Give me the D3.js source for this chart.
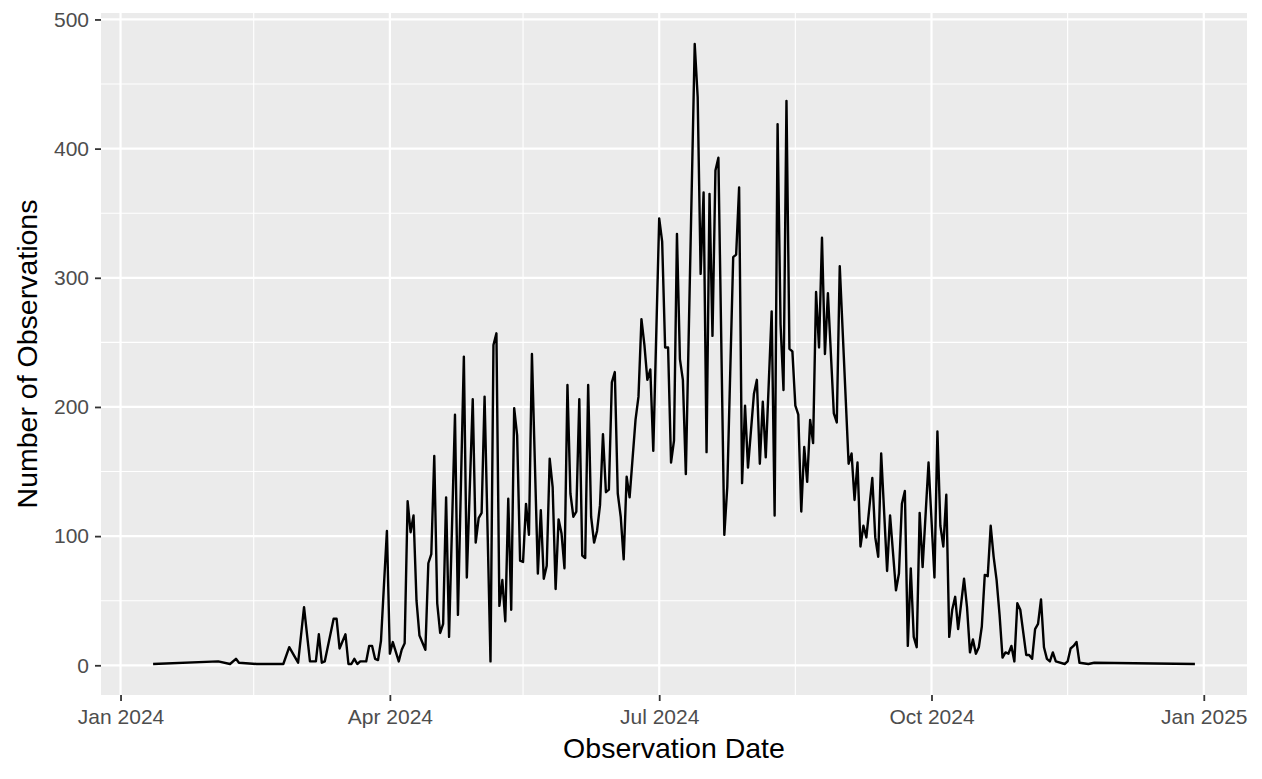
<!DOCTYPE html>
<html>
<head>
<meta charset="utf-8">
<script src="https://cdn.jsdelivr.net/npm/d3@7"></script>
<style>
  html, body { margin: 0; padding: 0; background: #ffffff; }
  svg { display: block; }
  text { font-family: "Liberation Sans", Arial, Helvetica, sans-serif; }
</style>
</head>
<body>
<svg id="chart" width="1262" height="779"></svg>
<script>
// ---- data ----
const obsDates = [
  "2024-01-12",
  "2024-02-03","2024-02-07","2024-02-09","2024-02-10","2024-02-16","2024-02-25","2024-02-27",
  "2024-03-01","2024-03-03","2024-03-05","2024-03-07","2024-03-08","2024-03-09","2024-03-10","2024-03-13","2024-03-14","2024-03-15","2024-03-17","2024-03-18","2024-03-19","2024-03-20","2024-03-21","2024-03-22","2024-03-24","2024-03-25","2024-03-26","2024-03-27","2024-03-28","2024-03-29","2024-03-30","2024-03-31",
  "2024-04-01","2024-04-02","2024-04-04","2024-04-05","2024-04-06","2024-04-07","2024-04-08","2024-04-09","2024-04-10","2024-04-11","2024-04-13","2024-04-14","2024-04-15","2024-04-16","2024-04-17","2024-04-18","2024-04-19","2024-04-20","2024-04-21","2024-04-23","2024-04-24","2024-04-26","2024-04-27","2024-04-29","2024-04-30",
  "2024-05-01","2024-05-02","2024-05-03","2024-05-05","2024-05-06","2024-05-07","2024-05-08","2024-05-09","2024-05-10","2024-05-11","2024-05-12","2024-05-13","2024-05-14","2024-05-15","2024-05-16","2024-05-17","2024-05-18","2024-05-19","2024-05-21","2024-05-22","2024-05-23","2024-05-24","2024-05-25","2024-05-26","2024-05-27","2024-05-28","2024-05-29","2024-05-30","2024-05-31",
  "2024-06-01","2024-06-02","2024-06-03","2024-06-04","2024-06-05","2024-06-06","2024-06-07","2024-06-08","2024-06-09","2024-06-10","2024-06-11","2024-06-12","2024-06-13","2024-06-14","2024-06-15","2024-06-16","2024-06-17","2024-06-18","2024-06-19","2024-06-20","2024-06-21","2024-06-23","2024-06-24","2024-06-25","2024-06-26","2024-06-27","2024-06-28","2024-06-29",
  "2024-07-01","2024-07-02","2024-07-03","2024-07-04","2024-07-05","2024-07-06","2024-07-07","2024-07-08","2024-07-09","2024-07-10","2024-07-13","2024-07-14","2024-07-15","2024-07-16","2024-07-17","2024-07-18","2024-07-19","2024-07-20","2024-07-21","2024-07-23","2024-07-24","2024-07-26","2024-07-27","2024-07-28","2024-07-29","2024-07-30","2024-07-31",
  "2024-08-02","2024-08-03","2024-08-04","2024-08-05","2024-08-06","2024-08-08","2024-08-09","2024-08-10","2024-08-11","2024-08-12","2024-08-13","2024-08-14","2024-08-15","2024-08-16","2024-08-17","2024-08-18","2024-08-19","2024-08-20","2024-08-21","2024-08-22","2024-08-23","2024-08-24","2024-08-25","2024-08-26","2024-08-27","2024-08-29","2024-08-30","2024-08-31",
  "2024-09-03","2024-09-04","2024-09-05","2024-09-06","2024-09-07","2024-09-08","2024-09-09","2024-09-11","2024-09-12","2024-09-13","2024-09-14","2024-09-16","2024-09-17","2024-09-19","2024-09-20","2024-09-21","2024-09-22","2024-09-23","2024-09-24","2024-09-25","2024-09-26","2024-09-27","2024-09-28","2024-09-30",
  "2024-10-02","2024-10-03","2024-10-04","2024-10-05","2024-10-06","2024-10-07","2024-10-08","2024-10-09","2024-10-10","2024-10-12","2024-10-13","2024-10-14","2024-10-15","2024-10-16","2024-10-17","2024-10-18","2024-10-19","2024-10-20","2024-10-21","2024-10-22","2024-10-23","2024-10-24","2024-10-25","2024-10-26","2024-10-27","2024-10-28","2024-10-29","2024-10-30","2024-10-31",
  "2024-11-02","2024-11-03","2024-11-04","2024-11-05","2024-11-06","2024-11-07","2024-11-08","2024-11-09","2024-11-10","2024-11-11","2024-11-12","2024-11-15","2024-11-16","2024-11-17","2024-11-18","2024-11-19","2024-11-20","2024-11-23","2024-11-25",
  "2024-12-29"
];
const obsCounts = [
  1,
  3,1,5,2,1,1,14,
  2,45,3,3,24,2,3,36,36,13,24,1,1,5,1,3,3,15,15,5,4,19,62,104,
  9,18,3,12,17,127,103,116,50,23,12,79,86,162,48,25,32,130,22,194,39,239,68,206,95,
  114,118,208,3,248,257,46,66,34,129,43,199,178,81,80,125,101,241,71,120,67,77,160,138,59,113,102,75,217,
  133,115,119,206,85,83,217,115,95,104,124,179,134,136,219,227,133,115,82,146,130,190,208,268,248,221,229,166,
  346,328,246,246,157,174,334,237,221,148,481,440,303,366,165,365,255,383,393,101,138,316,318,370,141,201,153,
  210,221,156,204,161,274,116,419,264,213,437,245,243,201,194,119,169,142,190,172,289,246,331,241,288,195,188,309,
  156,164,128,157,92,108,99,145,99,84,164,73,116,58,71,125,135,15,75,22,14,118,76,157,
  68,181,108,92,132,22,43,53,28,67,45,10,20,9,14,30,70,69,108,84,66,39,6,10,9,15,3,48,43,
  8,8,5,28,32,51,14,5,3,10,3,1,3,13,15,18,2,1,2,
  1
];
const xTickLabels = ["Jan 2024","Apr 2024","Jul 2024","Oct 2024","Jan 2025"];
const xTickDates = ["2024-01-01","2024-04-01","2024-07-01","2024-10-01","2025-01-01"];
const xMinorDates = ["2024-02-15","2024-05-16","2024-08-16","2024-11-16"];
const yTicks = [0,100,200,300,400,500];
const yMinorTicks = [50,150,250,350,450];
const xTitle = "Observation Date";
const yTitle = "Number of Observations";

// ---- layout ----
const W = 1262, H = 779;
const panel = { left: 101, top: 13, right: 1247, bottom: 695 };
const tickFont = "21px", titleFont = "28.5px";

const parse = d3.timeParse("%Y-%m-%d");
const data = obsDates.map((d, i) => ({ date: parse(d), n: obsCounts[i] }));

// ggplot-style 5% expansion
const xExt = d3.extent(data, d => d.date);
const xPad = (xExt[1] - xExt[0]) * 0.05;
const yExt = d3.extent(data, d => d.n);
const yPad = (yExt[1] - yExt[0]) * 0.05;

const x = d3.scaleTime()
  .domain([new Date(+xExt[0] - xPad), new Date(+xExt[1] + xPad)])
  .range([panel.left, panel.right]);
const y = d3.scaleLinear()
  .domain([yExt[0] - yPad, yExt[1] + yPad])
  .range([panel.bottom, panel.top]);

const svg = d3.select("#chart");

// panel background
svg.append("rect")
  .attr("x", panel.left).attr("y", panel.top)
  .attr("width", panel.right - panel.left).attr("height", panel.bottom - panel.top)
  .attr("fill", "#EBEBEB");

const grid = svg.append("g");
// minor grid
grid.selectAll("line.ymin").data(yMinorTicks).join("line")
  .attr("x1", panel.left).attr("x2", panel.right)
  .attr("y1", d => y(d)).attr("y2", d => y(d))
  .attr("stroke", "#ffffff").attr("stroke-width", 1.1);
grid.selectAll("line.xmin").data(xMinorDates.map(parse)).join("line")
  .attr("y1", panel.top).attr("y2", panel.bottom)
  .attr("x1", d => x(d)).attr("x2", d => x(d))
  .attr("stroke", "#ffffff").attr("stroke-width", 1.1);
// major grid
grid.selectAll("line.ymaj").data(yTicks).join("line")
  .attr("x1", panel.left).attr("x2", panel.right)
  .attr("y1", d => y(d)).attr("y2", d => y(d))
  .attr("stroke", "#ffffff").attr("stroke-width", 2.2);
grid.selectAll("line.xmaj").data(xTickDates.map(parse)).join("line")
  .attr("y1", panel.top).attr("y2", panel.bottom)
  .attr("x1", d => x(d)).attr("x2", d => x(d))
  .attr("stroke", "#ffffff").attr("stroke-width", 2.2);

// line
const line = d3.line().x(d => x(d.date)).y(d => y(d.n));
svg.append("path")
  .datum(data)
  .attr("d", line)
  .attr("fill", "none")
  .attr("stroke", "#000000")
  .attr("stroke-width", 2.4)
  .attr("stroke-linejoin", "round");

// axes
const xAxis = d3.axisBottom(x)
  .tickValues(xTickDates.map(parse))
  .tickFormat((d, i) => xTickLabels[i])
  .tickSize(6).tickPadding(8);
const gx = svg.append("g").attr("transform", `translate(0,${panel.bottom})`).call(xAxis);
gx.select(".domain").remove();
gx.selectAll(".tick line").attr("stroke", "#333333").attr("stroke-width", 1.8);
gx.selectAll(".tick text").attr("fill", "#4D4D4D").style("font-size", tickFont)
  .style("font-family", "'Liberation Sans', Arial, sans-serif");

const yAxis = d3.axisLeft(y).tickValues(yTicks).tickFormat(d3.format("d"))
  .tickSize(6).tickPadding(6);
const gy = svg.append("g").attr("transform", `translate(${panel.left},0)`).call(yAxis);
gy.select(".domain").remove();
gy.selectAll(".tick line").attr("stroke", "#333333").attr("stroke-width", 1.8);
gy.selectAll(".tick text").attr("fill", "#4D4D4D").style("font-size", tickFont)
  .style("font-family", "'Liberation Sans', Arial, sans-serif");

// titles
svg.append("text")
  .attr("x", (panel.left + panel.right) / 2).attr("y", 758)
  .attr("text-anchor", "middle").attr("fill", "#000")
  .style("font-size", titleFont).text(xTitle);
svg.append("text")
  .attr("transform", `translate(37,${(panel.top + panel.bottom) / 2}) rotate(-90)`)
  .attr("text-anchor", "middle").attr("fill", "#000")
  .style("font-size", titleFont).text(yTitle);
</script>
</body>
</html>
